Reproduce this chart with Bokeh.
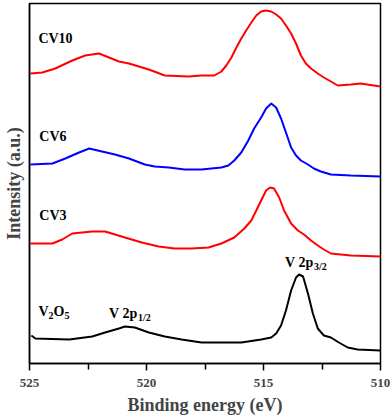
from bokeh.plotting import figure
from bokeh.models import Range1d, FixedTicker, Label
from bokeh.embed import file_html
from bokeh.resources import INLINE

# ---- data (binding energy in eV, intensity in arbitrary units) ----
energy_cv10 = [524.96, 524.45, 523.90, 523.17, 522.62, 522.03, 521.60, 521.18, 520.75, 519.90,
               519.22, 518.20, 517.65, 517.10, 516.80, 516.59, 516.37, 516.16, 515.95, 515.74,
               515.52, 515.31, 515.10, 514.89, 514.67, 514.46, 514.25, 514.04, 513.82, 513.61,
               513.40, 513.19, 512.97, 512.68, 512.42, 512.12, 511.83, 511.27, 510.85, 510.0]
inten_cv10 = [290, 291, 295, 303, 308, 310, 306, 302, 300, 294,
              288, 287, 288, 288, 292, 298, 306, 316, 325, 333,
              341, 348, 352, 353, 352, 349, 345, 338, 330, 320,
              308, 300, 295, 290, 286, 282, 278, 279, 280, 277]

energy_cv6 = [524.96, 524.02, 523.47, 522.88, 522.45, 521.90, 521.35, 520.75, 520.07, 519.65,
              519.05, 518.37, 517.65, 516.80, 516.50, 516.25, 515.95, 515.65, 515.40, 515.10,
              514.89, 514.67, 514.46, 514.25, 514.04, 513.82, 513.61, 513.40, 513.10, 512.85,
              512.55, 512.12, 511.27, 510.0]
inten_cv6 = [199, 200, 205, 211, 215, 212, 209, 205, 199, 197,
             196, 194, 194, 196, 198, 203, 211, 223, 235, 246,
             255, 260, 256, 245, 231, 216, 208, 203, 199, 195,
             192, 189, 188, 187]

energy_cv3 = [524.96, 524.02, 523.60, 523.17, 522.75, 522.32, 521.77, 520.92, 520.20, 519.48,
              518.80, 518.07, 517.35, 516.80, 516.25, 515.82, 515.52, 515.31, 515.10, 514.89,
              514.72, 514.55, 514.33, 514.12, 513.82, 513.53, 513.27, 512.97, 512.68, 512.42,
              512.12, 511.27, 510.0]
inten_cv3 = [120, 120, 124, 130, 131, 132, 132, 126, 121, 117,
             115, 115, 116, 120, 126, 135, 143, 153, 163, 173,
             176, 175, 166, 153, 140, 133, 129, 123, 118, 114,
             110, 108, 107]

energy_v2o5 = [524.92, 524.75, 523.30, 522.32, 521.77, 521.18, 520.92, 520.50, 519.90, 519.22,
               518.50, 517.65, 515.95, 515.10, 514.67, 514.46, 514.25, 514.04, 513.82, 513.61,
               513.48, 513.31, 513.10, 512.89, 512.68, 512.42, 512.12, 511.78, 511.40, 510.98,
               510.0]
inten_v2o5 = [28, 25, 24, 27, 31, 35, 37, 36, 31, 27,
              24, 21, 21, 24, 26, 30, 38, 53, 73, 86,
              89, 87, 70, 50, 35, 28, 26, 21, 16, 14,
              13]

x_ticks = [525, 520, 515, 510]
x_minor_ticks = [522.5, 517.5, 512.5]
x_tick_labels = ["525", "520", "515", "510"]

FONT = "Liberation Serif"

p = figure(width=392, height=418, output_backend="svg", toolbar_location=None,
           x_range=Range1d(525, 510), y_range=Range1d(0, 360),
           min_border_left=27, min_border_right=12, min_border_top=3, min_border_bottom=55)

p.background_fill_color = "white"
p.border_fill_color = "white"
p.grid.visible = False
p.outline_line_color = "black"
p.outline_line_width = 1.5

# x axis
p.xaxis.ticker = FixedTicker(ticks=x_ticks, minor_ticks=x_minor_ticks)
p.xaxis.major_label_overrides = {t: l for t, l in zip(x_ticks, x_tick_labels)}
p.xaxis.axis_label = "Binding energy (eV)"
p.xaxis.axis_label_text_font = FONT
p.xaxis.axis_label_text_font_style = "bold"
p.xaxis.axis_label_text_font_size = "18px"
p.xaxis.axis_label_standoff = 5
p.xaxis.major_label_text_font = FONT
p.xaxis.major_label_text_font_style = "bold"
p.xaxis.major_label_text_font_size = "13px"
p.xaxis.major_label_standoff = 8
p.xaxis.major_tick_out = 7
p.xaxis.major_tick_in = 0
p.xaxis.minor_tick_out = 6
p.xaxis.minor_tick_in = 0
p.xaxis.axis_line_width = 1.5
p.xaxis.major_tick_line_width = 1.5
p.xaxis.minor_tick_line_width = 1.5

# y axis (no ticks)
p.yaxis.ticker = FixedTicker(ticks=[])
p.yaxis.axis_label = "Intensity (a.u.)"
p.yaxis.axis_label_text_font = FONT
p.yaxis.axis_label_text_font_style = "bold"
p.yaxis.axis_label_text_font_size = "18px"
p.yaxis.axis_label_standoff = 6
p.yaxis.major_label_standoff = 0
p.yaxis.major_tick_out = 0
p.yaxis.minor_tick_out = 0
p.yaxis.axis_line_width = 1.5

p.line(energy_cv10, inten_cv10, line_color="#ff0000", line_width=2)
p.line(energy_cv6, inten_cv6, line_color="#0000ff", line_width=2)
p.line(energy_cv3, inten_cv3, line_color="#ff0000", line_width=2)
p.line(energy_v2o5, inten_v2o5, line_color="black", line_width=2)


def lab(x, y, text, size=14, dx=0, dy=0):
    p.add_layout(Label(x=x, y=y, text=text, x_offset=dx, y_offset=dy,
                       text_font=FONT, text_font_style="bold",
                       text_font_size=f"{size}px", text_baseline="alphabetic",
                       text_color="black"))


lab(524.62, 325, "CV10")
lab(524.58, 227, "CV6")
lab(524.58, 148, "CV3")
# V2O5
lab(524.62, 52, "V")
lab(524.62, 52, "2", size=10, dx=10, dy=-4)
lab(524.62, 52, "O", size=14, dx=15)
lab(524.62, 52, "5", size=10, dx=26, dy=-4)
# V 2p1/2
lab(521.60, 50, "V 2p")
lab(521.60, 50, "1/2", size=10, dx=29, dy=-4)
# V 2p3/2
lab(514.08, 101, "V 2p")
lab(514.08, 101, "3/2", size=10, dx=29, dy=-4)

open("out.html", "w").write(file_html(p, INLINE))
